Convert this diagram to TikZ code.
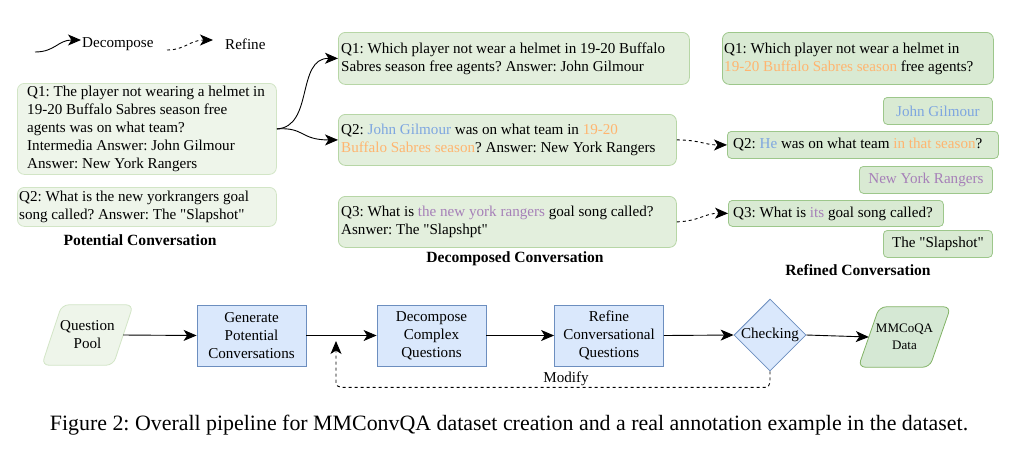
\documentclass[tikz,border=0pt]{standalone}
\usepackage{fontspec}
\setmainfont{Liberation Serif}
\usetikzlibrary{arrows.meta,shapes.geometric,calc}
\definecolor{leftfill}{HTML}{EEF5EA}
\definecolor{leftdraw}{HTML}{D2E5C6}
\definecolor{midfill}{HTML}{E3EFDD}
\definecolor{middraw}{HTML}{B7D6A6}
\definecolor{rightfill}{HTML}{D9EAD3}
\definecolor{rightdraw}{HTML}{9DC78B}
\definecolor{bluefill}{HTML}{DAE8FC}
\definecolor{bluedraw}{HTML}{6C8EBF}
\definecolor{outfill}{HTML}{D5E8D4}
\definecolor{outdraw}{HTML}{82B366}
\definecolor{jblue}{HTML}{7EA6E0}
\definecolor{orng}{HTML}{FFB570}
\definecolor{purp}{HTML}{A680B8}
\newcommand\qfont{\fontsize{15.1}{18}\selectfont}
\newcommand\qq{\textquotedbl}
\frenchspacing
\tikzset{
  box/.style={rounded corners=7pt, anchor=north west, inner sep=0pt, line width=0.8pt},
  leftbox/.style={box, draw=leftdraw, fill=leftfill},
  midbox/.style={box, draw=middraw, fill=midfill},
  rightbox/.style={box, draw=rightdraw, fill=rightfill},
  txt/.style={anchor=west, inner sep=0pt, align=left, font=\qfont},
  ansbox/.style={rounded corners=4pt, anchor=north west, inner sep=2pt, align=center, font=\qfont, draw=rightdraw, fill=rightfill, line width=0.8pt},
  title/.style={font=\fontsize{15.6}{18}\selectfont\bfseries},
  stepbox/.style={draw=bluedraw, fill=bluefill, line width=0.8pt, minimum width=109, minimum height=61, align=center, font=\qfont, inner sep=0pt},
  arr/.style={-{Stealth[length=13pt,width=11pt,inset=3.5pt]}, line width=0.9pt},
  darr/.style={-{Stealth[length=13pt,width=11pt,inset=3.5pt]}, line width=0.9pt, dash pattern=on 3pt off 3pt},
}
\begin{document}
\begin{tikzpicture}[x=1pt,y=-1pt]
\useasboundingbox (0,0) rectangle (1032,451);

% legend
\coordinate (l1a) at (35,52);
\coordinate (l1b) at (81,40);
\node[font=\qfont, anchor=west, inner sep=0pt] (lgd) at (82,44) {Decompose};
\draw[arr] (l1a) .. controls (55,52) and (58,40) .. (l1b);
\coordinate (l2a) at (167,50);
\coordinate (l2b) at (213,40);
\node[font=\qfont, anchor=west, inner sep=0pt] (lgr) at (225,44) {Refine};
\draw[darr] (l2a) .. controls (185,50) and (190,40) .. (l2b);

% potential conversation
\node[leftbox, minimum width=259, minimum height=91] (p1) at (17,83) {};
\node[txt] (p1t) at ($(p1.west)+(10,0)$)
 {Q1: The player not wearing a helmet in\\19-20 Buffalo Sabres season free\\agents was on what team?\\Intermedia Answer: John Gilmour\\Answer: New York Rangers};
\node[leftbox, minimum width=259, minimum height=39] (p2) at (17,187) {};
\node[txt] (p2t) at ($(p2.west)+(2,0)$)
 {Q2: What is the new yorkrangers goal\\song called? Answer: The \qq Slapshot\qq};
\node[title] (tp) at (140,240) {Potential Conversation};

% decomposed conversation
\node[midbox, minimum width=351, minimum height=52] (d1) at (338,32) {};
\node[txt] (d1t) at ($(d1.west)+(3,0)$)
 {Q1: Which player not wear a helmet in 19-20 Buffalo\\Sabres season free agents? Answer: John Gilmour};
\node[midbox, minimum width=338, minimum height=51] (d2) at (338,114) {};
\node[txt] (d2t) at ($(d2.west)+(3,0)$)
 {Q2: \textcolor{jblue}{John Gilmour} was on what team in \textcolor{orng}{19-20}\\\textcolor{orng}{Buffalo Sabres season}? Answer: New York Rangers};
\node[midbox, minimum width=338, minimum height=51] (d3) at (338,196) {};
\node[txt] (d3t) at ($(d3.west)+(3,0)$)
 {Q3: What is \textcolor{purp}{the new york rangers} goal song called?\\Asnwer: The \qq Slapshpt\qq};
\node[title] (td) at (515,259) {Decomposed Conversation};

% refined conversation
\node[rightbox, minimum width=271, minimum height=52] (r1) at (722,32) {};
\node[txt] (r1t) at ($(r1.west)+(2,0)$)
 {Q1: Which player not wear a helmet in\\\textcolor{orng}{19-20 Buffalo Sabres season} free agents?};
\node[ansbox, minimum width=109, minimum height=27] (rjg) at (883,97) {\textcolor{jblue}{John Gilmour}};
\node[rightbox, rounded corners=4pt, minimum width=271, minimum height=27] (r2) at (727,131) {};
\node[txt] (r2t) at ($(r2.west)+(6,0)$)
 {Q2: \textcolor{jblue}{He} was on what team \textcolor{orng}{in that season}?};
\node[ansbox, minimum width=133, minimum height=27] (rnyr) at (859,166) {\textcolor{purp}{New York Rangers}};
\node[rightbox, rounded corners=4pt, minimum width=215, minimum height=26] (r3) at (728,200) {};
\node[txt] (r3t) at ($(r3.west)+(5,0)$)
 {Q3: What is \textcolor{purp}{its} goal song called?};
\node[ansbox, minimum width=109, minimum height=27] (rsl) at (883,230) {The \qq Slapshot\qq};
\node[title] (tr) at (858,270) {Refined Conversation};

% decompose arrows
\draw[arr] (p1.east) .. controls (314,127) and (296,58) .. (d1.west);
\draw[arr] (p1.east) .. controls (305,127) and (300,140) .. (d2.west);
% refine arrows
\draw[darr] (d2.east) .. controls (700,140) and (705,145) .. (r2.west);
\draw[darr] (d3.east) .. controls (700,221) and (705,213) .. (r3.west);

% pipeline
\node[minimum width=71, minimum height=60, inner sep=0pt] (qp) at (87.5,335) {};
\draw[draw=leftdraw, fill=leftfill, line width=0.8pt, rounded corners=7pt]
  ($(qp.north west)+(10,0)$) -- ($(qp.north east)+(10,0)$) -- ($(qp.south east)+(-10,0)$) -- ($(qp.south west)+(-10,0)$) -- cycle;
\node[font=\qfont, align=center] (qpt) at (qp) {Question\\Pool};

\node[stepbox] (gen) at (251.5,335.5) {Generate\\Potential\\Conversations};
\node[stepbox] (dec) at (431.5,335.5) {Decompose\\Complex\\Questions};
\node[stepbox] (ref) at (609,335.5) {Refine\\Conversational\\Questions};
\node[diamond, draw=bluedraw, fill=bluefill, line width=0.8pt, minimum width=72, minimum height=72, inner sep=0pt,
      label={[font=\qfont]center:Checking}] (chk) at (770,335) {};

\node[minimum width=71, minimum height=60, inner sep=0pt] (out) at (904.5,337) {};
\draw[draw=outdraw, fill=outfill, line width=0.8pt, rounded corners=7pt]
  ($(out.north west)+(10.5,0)$) -- ($(out.north east)+(10.5,0)$) -- ($(out.south east)+(-10.5,0)$) -- ($(out.south west)+(-10.5,0)$) -- cycle;
\node[font=\fontsize{13}{17}\selectfont, align=center] (outt) at (out) {MMCoQA\\Data};

\draw[arr] (qp.east) -- (gen.west);
\draw[arr] (gen.east) -- (dec.west);
\draw[arr] (dec.east) -- (ref.west);
\draw[arr] (ref.east) -- (chk.west);
\draw[arr] (chk.east) -- (out.west);

\coordinate (mod) at (336,341);
\draw[darr, rounded corners=5pt] (chk.south) -- ++(0,16) -| (mod);
\node[font=\qfont] (modl) at (566,379) {Modify};

% caption
\node[font=\fontsize{21.9}{24}\selectfont] (cap) at (509,425) {Figure 2: Overall pipeline for MMConvQA dataset creation and a real annotation example in the dataset.};
\end{tikzpicture}
\end{document}
